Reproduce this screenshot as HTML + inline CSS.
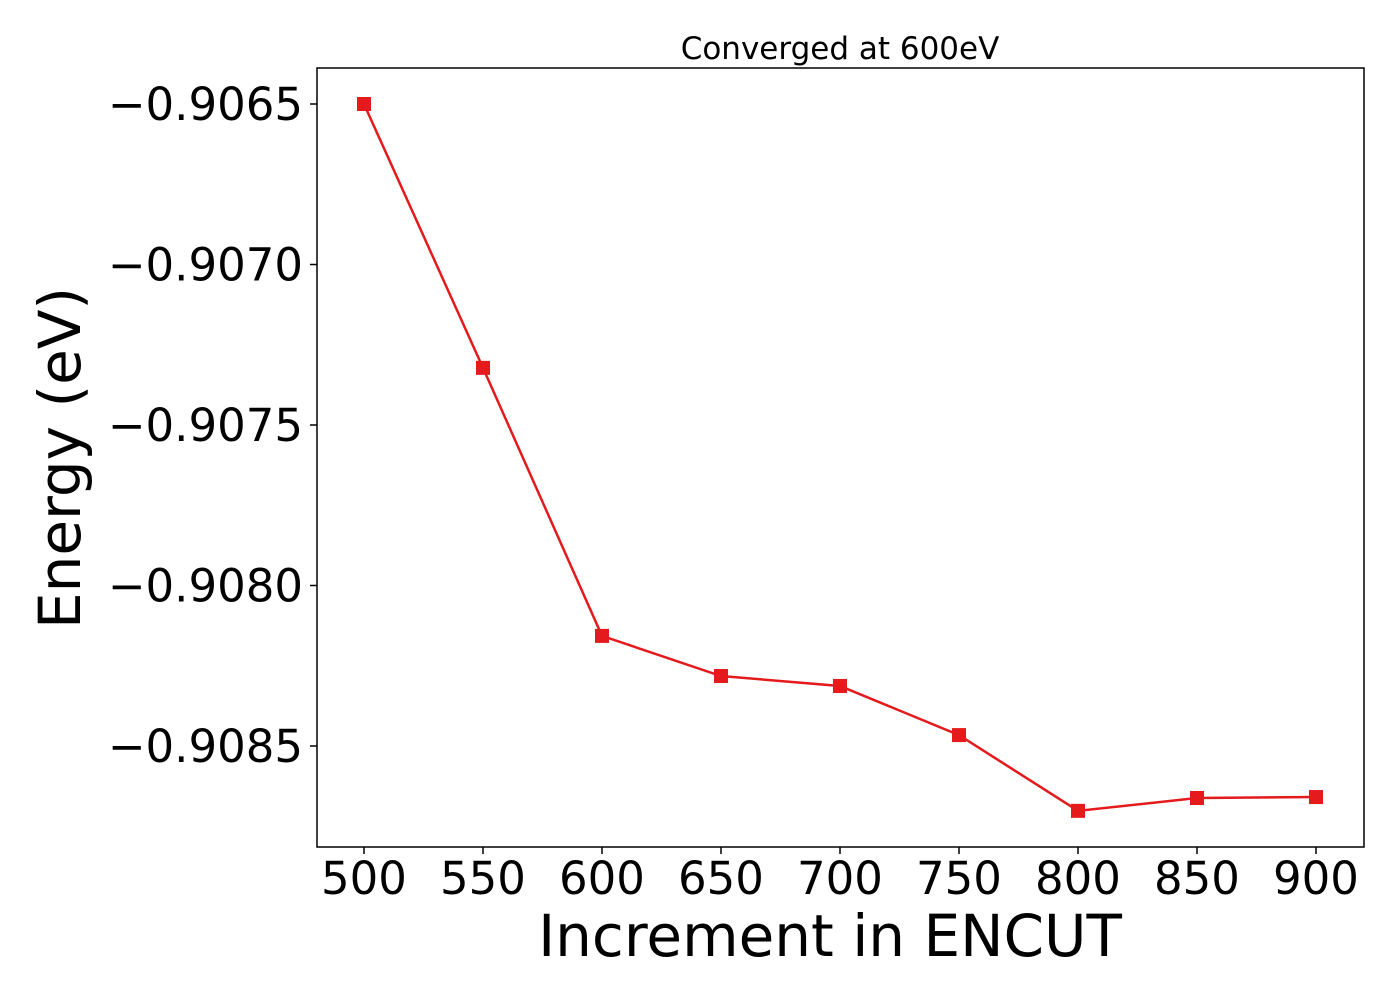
<!DOCTYPE html>
<html><head><meta charset="utf-8"><style>
body{margin:0;background:#fff}
svg text{font-family:"DejaVu Sans","Liberation Sans",sans-serif;fill:#000}
</style></head><body>
<svg width="1400" height="1000" id="chart">
<text x="840" y="59" font-size="31" text-anchor="middle">Converged at 600eV</text>
<text x="830" y="956" font-size="58" text-anchor="middle">Increment in ENCUT</text>
<text transform="translate(80,458) rotate(-90)" font-size="58" text-anchor="middle">Energy (eV)</text>
<g id="xt"></g><g id="yt"></g><g id="marks"></g>
<rect x="317" y="68" width="1047" height="779" fill="none" stroke="#000" stroke-width="1.5"/>
</svg>
<script>
const categories=[500,550,600,650,700,750,800,850,900];
const energies=[-0.9065,-0.907322,-0.908157,-0.908282,-0.908313,-0.908466,-0.908702,-0.908662,-0.908659];
const xTicks=[500,550,600,650,700,750,800,850,900];
const yTicks=[-0.9065,-0.9070,-0.9075,-0.9080,-0.9085];
const yTickLabels=["\u22120.9065","\u22120.9070","\u22120.9075","\u22120.9080","\u22120.9085"];
const NS="http://www.w3.org/2000/svg";
const x=v=>364+(v-500)*(952/400);
const y=v=>104+(-0.9065-v)*321000;
function mk(t,a,p){const e=document.createElementNS(NS,t);for(const k in a)e.setAttribute(k,a[k]);p.appendChild(e);return e;}
const xt=document.getElementById('xt'),yt=document.getElementById('yt'),m=document.getElementById('marks');
xTicks.forEach(v=>{
 const l=mk('line',{x1:x(v),x2:x(v),y1:847,y2:854,stroke:'#000','stroke-width':1.5},xt);
 
 
 const t=mk('text',{x:x(v),y:894,'font-size':45,'text-anchor':'middle'},xt);t.textContent=v;
 
 
});
yTicks.forEach((v,i)=>{
 const l=mk('line',{x1:310,x2:317,y1:y(v),y2:y(v),stroke:'#000','stroke-width':1.5},yt);
 
 
 const t=mk('text',{x:303,y:y(v)+16,'font-size':45,'text-anchor':'end'},yt);t.textContent=yTickLabels[i];
 
 
});
const pl=mk('polyline',{points:categories.map((c,i)=>x(c)+','+y(energies[i])).join(' '),fill:'none',stroke:'#e41a1c','stroke-width':2.5},m);


categories.forEach((c,i)=>{
 const r=mk('rect',{x:x(c)-7,y:y(energies[i])-7,width:14,height:14,fill:'#e41a1c'},m);
 
 
});
</script>
</body></html>
